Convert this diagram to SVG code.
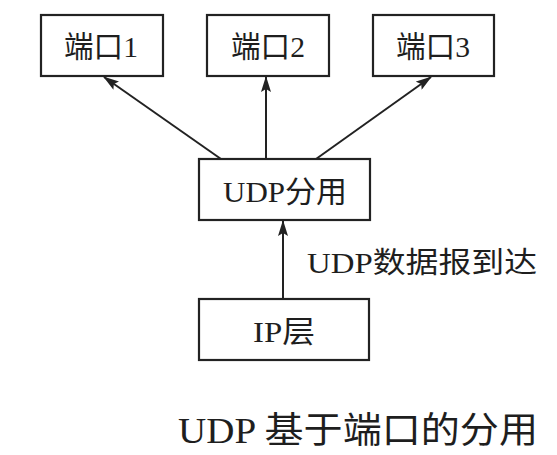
<svg xmlns="http://www.w3.org/2000/svg" width="557" height="455" viewBox="0 0 557 455">
<style>
.box{fill:#fff;stroke:#222;stroke-width:2.2}
.t{font-family:"Liberation Serif","Noto Sans CJK SC",serif;fill:#1e1e1e;text-anchor:middle}
.c{stroke:#222;stroke-width:2;fill:none;marker-end:url(#ah)}
</style>
<defs>
<marker id="ah" viewBox="0 0 16 10" refX="15" refY="5" markerWidth="16" markerHeight="10" markerUnits="userSpaceOnUse" orient="auto">
<path d="M0,0 L16,5 L0,10 L3,5 Z" fill="#222"/>
</marker>
</defs>
<rect width="557" height="455" fill="#fff"/>
<g id="connectors">
<line class="c" x1="221" y1="159" x2="104" y2="77"/>
<line class="c" x1="266" y1="159" x2="266" y2="77"/>
<line class="c" x1="316" y1="159" x2="431" y2="77"/>
<line class="c" x1="283" y1="299" x2="283" y2="221"/>
</g>
<g id="port1"><rect class="box" x="41" y="15" width="122" height="61"/><text class="t" x="101" y="57" font-size="30" textLength="74" lengthAdjust="spacingAndGlyphs">端口1</text></g>
<g id="port2"><rect class="box" x="207" y="15" width="122" height="61"/><text class="t" x="268" y="57" font-size="30" textLength="74" lengthAdjust="spacingAndGlyphs">端口2</text></g>
<g id="port3"><rect class="box" x="373" y="15" width="121" height="61"/><text class="t" x="433" y="57" font-size="30" textLength="74" lengthAdjust="spacingAndGlyphs">端口3</text></g>
<g id="udp"><rect class="box" x="199" y="159" width="171" height="61"/><text class="t" x="285" y="202" font-size="30" textLength="124" lengthAdjust="spacingAndGlyphs">UDP分用</text></g>
<g id="ip"><rect class="box" x="199" y="299" width="170" height="61"/><text class="t" x="284" y="342" font-size="30" textLength="62" lengthAdjust="spacingAndGlyphs">IP层</text></g>
<g id="label"><text class="t" x="422" y="273" font-size="29" textLength="230" lengthAdjust="spacingAndGlyphs">UDP数据报到达</text></g>
<g id="caption"><text class="t" x="358" y="443" font-size="36" fill="#2a2a2a" textLength="360" lengthAdjust="spacingAndGlyphs">UDP 基于端口的分用</text></g>
</svg>
